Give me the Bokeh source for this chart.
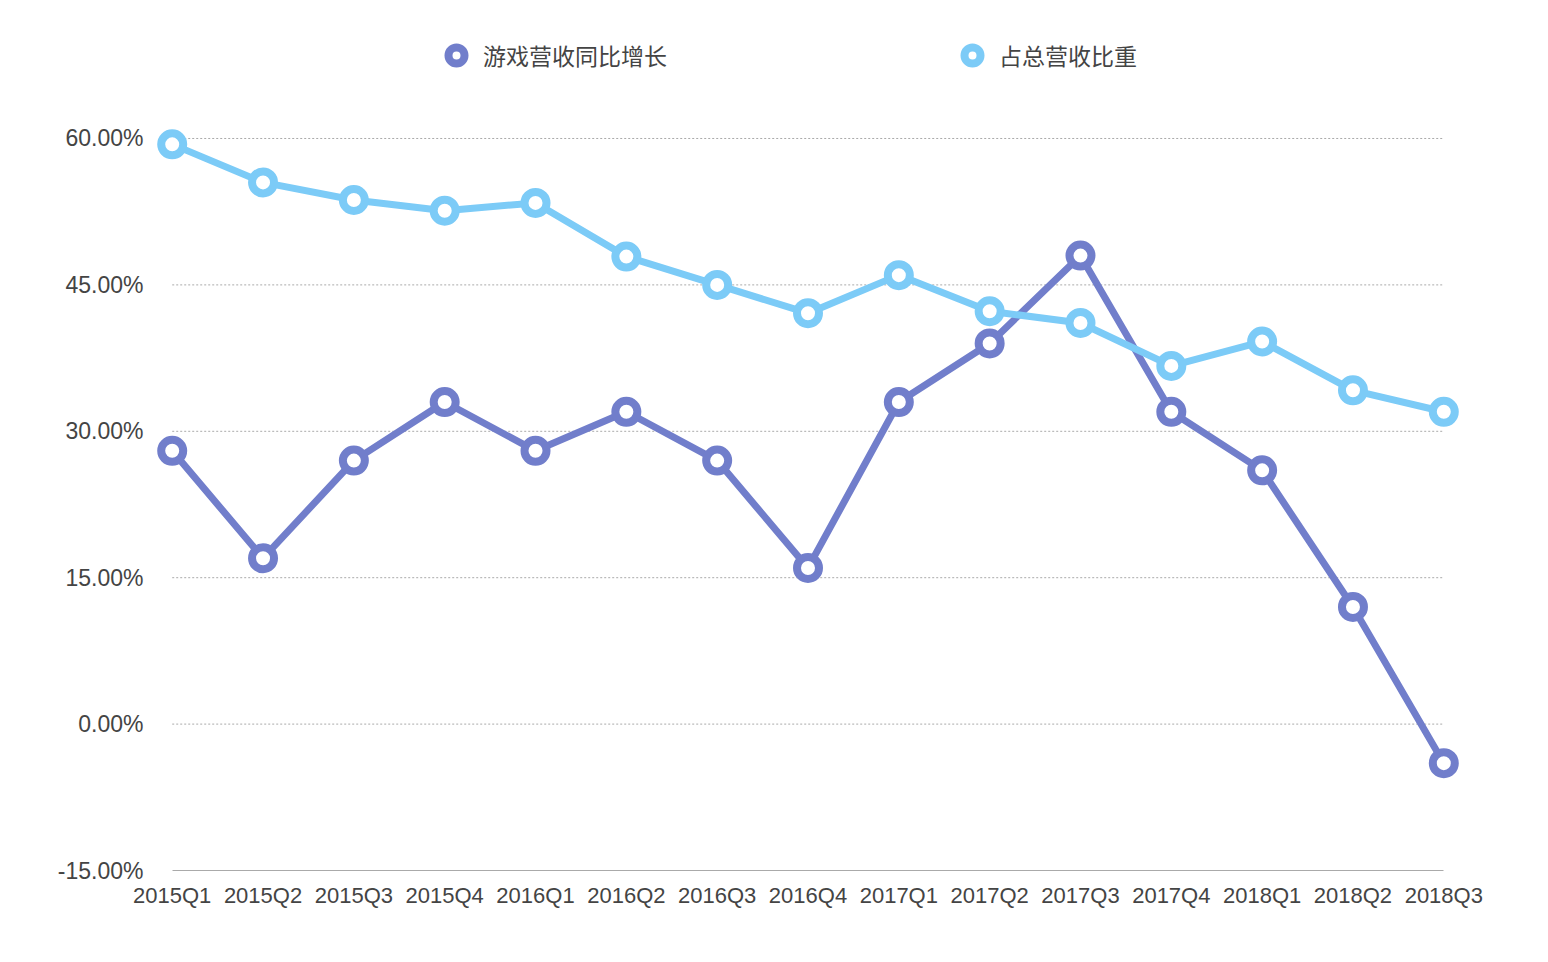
from bokeh.plotting import figure
from bokeh.models import ColumnDataSource, FixedTicker, Legend, LegendItem, Range1d
from bokeh.embed import file_html
from bokeh.resources import INLINE

categories = ["2015Q1", "2015Q2", "2015Q3", "2015Q4", "2016Q1", "2016Q2", "2016Q3", "2016Q4",
              "2017Q1", "2017Q2", "2017Q3", "2017Q4", "2018Q1", "2018Q2", "2018Q3"]
game_growth = [28, 17, 27, 33, 28, 32, 27, 16, 33, 39, 48, 32, 26, 12, -4]
revenue_share = [59.4, 55.5, 53.7, 52.6, 53.4, 47.9, 45.0, 42.1, 46.0, 42.3, 41.1, 36.7, 39.2, 34.2, 32.0]
series_names = ["游戏营收同比增长", "占总营收比重"]
y_ticks = [-15, 0, 15, 30, 45, 60]
y_tick_labels = ["-15.00%", "0.00%", "15.00%", "30.00%", "45.00%", "60.00%"]

PURPLE = "#717ecb"
BLUE = "#7ccbf7"
TEXT = "#444444"

xs = list(range(len(categories)))

p = figure(width=1540, height=954, output_backend="svg", toolbar_location=None,
           x_range=Range1d(-0.25, len(categories) - 1 + 0.25),
           y_range=Range1d(-15, 72.09),
           min_border_left=149, min_border_right=74, min_border_top=20, min_border_bottom=84)
p.outline_line_color = None
p.background_fill_color = "white"
p.xgrid.visible = False
p.ygrid.visible = False

# dotted gridlines spanning first to last category
grid_vals = [v for v in y_ticks if v != y_ticks[0]]
p.segment(x0=[xs[0]] * len(grid_vals), x1=[xs[-1]] * len(grid_vals), y0=grid_vals, y1=grid_vals,
          line_color="#aaaaaa", line_width=1, line_dash="2 2")

# x axis
p.xaxis.ticker = FixedTicker(ticks=xs)
p.xaxis.major_label_overrides = {i: c for i, c in enumerate(categories)}
p.xaxis.bounds = (xs[0], xs[-1])
p.xaxis.axis_line_color = "#aaaaaa"
p.xaxis.axis_line_width = 1
p.xaxis.major_tick_line_color = None
p.xaxis.minor_tick_line_color = None
p.xaxis.major_tick_out = 0
p.xaxis.major_tick_in = 0
p.xaxis.major_label_standoff = 12
p.xaxis.major_label_text_font = "Liberation Sans"
p.xaxis.major_label_text_font_size = "22px"
p.xaxis.major_label_text_color = TEXT

# y axis
p.yaxis.ticker = FixedTicker(ticks=y_ticks)
p.yaxis.major_label_overrides = {v: l for v, l in zip(y_ticks, y_tick_labels)}
p.yaxis.axis_line_color = None
p.yaxis.major_tick_line_color = None
p.yaxis.minor_tick_line_color = None
p.yaxis.major_tick_out = 0
p.yaxis.major_tick_in = 0
p.yaxis.major_label_standoff = 6
p.yaxis.major_label_text_font = "Liberation Sans"
p.yaxis.major_label_text_font_size = "23px"
p.yaxis.major_label_text_color = TEXT

src = ColumnDataSource(dict(x=xs, g=game_growth, s=revenue_share))

p.line("x", "g", source=src, line_color=PURPLE, line_width=7)
r1 = p.scatter("x", "g", source=src, size=22, line_color=PURPLE, line_width=8, fill_color="white")
p.line("x", "s", source=src, line_color=BLUE, line_width=7)
r2 = p.scatter("x", "s", source=src, size=22, line_color=BLUE, line_width=8, fill_color="white")

legend = Legend(items=[LegendItem(label=series_names[0], renderers=[r1]),
                       LegendItem(label=series_names[1], renderers=[r2])],
                orientation="horizontal", location=(287, 795),
                glyph_width=40, glyph_height=40, label_standoff=7, spacing=285,
                padding=0, margin=0, border_line_alpha=0, background_fill_alpha=0,
                label_text_font="Noto Sans CJK SC", label_text_font_size="23px",
                label_text_color=TEXT)
p.add_layout(legend, "center")

open("out.html", "w").write(file_html(p, INLINE))
